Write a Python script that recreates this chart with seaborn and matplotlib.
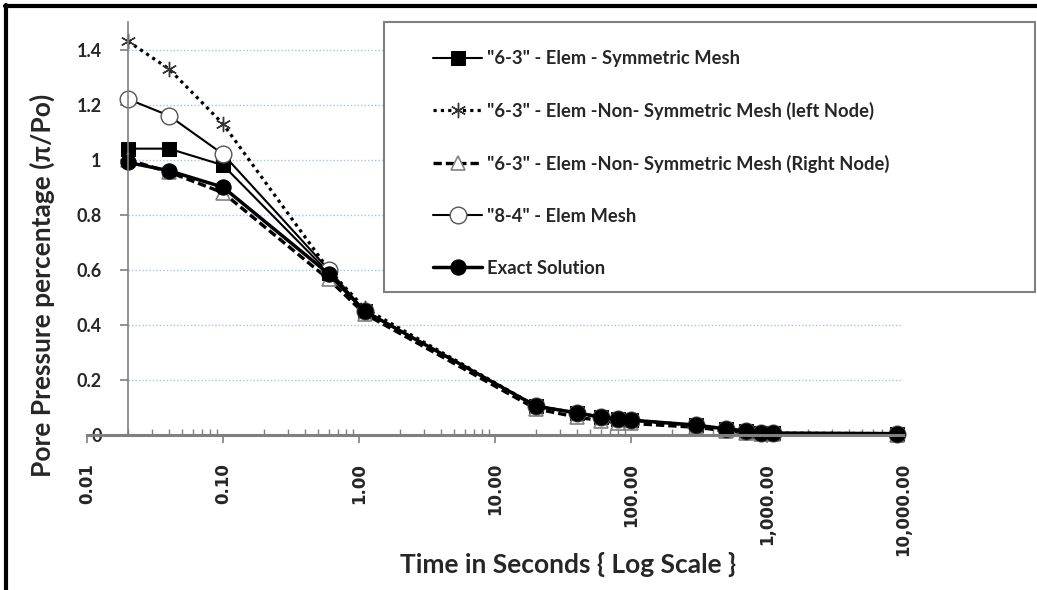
import numpy as np
import pandas as pd
import matplotlib
matplotlib.use("Agg")
import matplotlib.pyplot as plt
import seaborn as sns
from matplotlib.ticker import FixedLocator, LogLocator, NullFormatter
from matplotlib.patches import Rectangle
from matplotlib.lines import Line2D

# ── Data ────────────────────────────────────────────────
time_s = [0.02, 0.04, 0.1, 0.6, 1.1, 20, 40, 60, 80, 100, 300, 500, 700, 900, 1100, 9000]

sym_mesh   = [1.04, 1.04, 0.98, 0.59, 0.45, 0.105, 0.08, 0.065, 0.058, 0.054, 0.035, 0.022, 0.014, 0.008, 0.007, 0.005]
left_node  = [1.43, 1.33, 1.13, 0.60, 0.46, 0.105, 0.08, 0.065, 0.058, 0.054, 0.035, 0.022, 0.014, 0.008, 0.007, 0.005]
right_node = [1.00, 0.955, 0.88, 0.565, 0.44, 0.095, 0.065, 0.052, 0.045, 0.042, 0.028, 0.015, 0.008, 0.003, 0.002, 0.0]
mesh_84    = [1.22, 1.16, 1.02, 0.60, 0.45, 0.105, 0.08, 0.065, 0.058, 0.054, 0.035, 0.022, 0.014, 0.008, 0.007, 0.005]
exact      = [0.99, 0.96, 0.90, 0.585, 0.45, 0.105, 0.08, 0.065, 0.058, 0.054, 0.036, 0.022, 0.014, 0.008, 0.007, 0.005]

labels = ['"6-3" - Elem - Symmetric Mesh',
          '"6-3" - Elem -Non- Symmetric Mesh (left Node)',
          '"6-3" - Elem -Non- Symmetric Mesh (Right Node)',
          '"8-4" - Elem Mesh',
          'Exact Solution']

x_ticks = [0.01, 0.1, 1, 10, 100, 1000, 10000]
x_tick_labels = ["0.01", "0.10", "1.00", "10.00", "100.00", "1,000.00", "10,000.00"]
y_ticks = [0, 0.2, 0.4, 0.6, 0.8, 1.0, 1.2, 1.4]
y_tick_labels = ["0", "0.2", "0.4", "0.6", "0.8", "1", "1.2", "1.4"]

# ── Style ───────────────────────────────────────────────
sns.set_theme(style="white")
plt.rcParams["font.family"] = ["Lato", "DejaVu Sans"]
plt.rcParams["font.weight"] = "bold"

W, H = 1037, 590
fig = plt.figure(figsize=(W / 100, H / 100), dpi=100)
fig.patch.set_facecolor("white")
ax = fig.add_axes([87 / W, 1 - 435 / H, (903 - 87) / W, (435 - 22) / H])

series = [
    (sym_mesh,   dict(marker="s", linestyle="-", linewidth=1.5, markersize=10,
                      markerfacecolor="black", markeredgecolor="black")),
    (left_node,  dict(marker=(6, 2, 0), linestyle=(0, (1, 1.3)), linewidth=2.3, markersize=11,
                      markerfacecolor="none", markeredgecolor="#333333", markeredgewidth=1.0)),
    (right_node, dict(marker="^", linestyle=(0, (2.5, 1.2)), linewidth=2.4, markersize=10,
                      markerfacecolor="white", markeredgecolor="#808080", markeredgewidth=1.2)),
    (mesh_84,    dict(marker="o", linestyle="-", linewidth=1.5, markersize=12,
                      markerfacecolor="white", markeredgecolor="#555555", markeredgewidth=1.0)),
    (exact,      dict(marker="o", linestyle="-", linewidth=2.5, markersize=11,
                      markerfacecolor="black", markeredgecolor="black")),
]

for (vals, kw), lab in zip(series, labels):
    sns.lineplot(x=time_s, y=vals, ax=ax, color="black", label=lab,
                 estimator=None, sort=False, clip_on=False, **kw)

ax.set_xscale("log")
ax.set_xlim(0.01, 10000)
ax.set_ylim(0, 1.5)

# light blue dotted gridlines starting at the y-axis crossing
ax.hlines(y_ticks[1:], 0.02, 10000, colors="#a9c1e8", linestyles=(0, (1, 1.5)),
          linewidth=1.0, zorder=0)

for s in ["top", "right"]:
    ax.spines[s].set_visible(False)
ax.spines["left"].set_position(("data", 0.02))
ax.spines["left"].set_color("#7f7f7f")
ax.spines["left"].set_linewidth(1.2)
ax.spines["bottom"].set_color("#7f7f7f")
ax.spines["bottom"].set_linewidth(2.2)

ax.set_yticks(y_ticks)
ax.set_yticklabels(y_tick_labels, fontsize=13, fontweight="bold")
ax.tick_params(axis="y", direction="out", length=6, width=1.2, color="#7f7f7f",
               pad=13, left=True)

ax.xaxis.set_major_locator(FixedLocator(x_ticks))
ax.set_xticklabels(x_tick_labels, rotation=90, fontsize=12,
                   fontfamily="DejaVu Sans", fontweight="bold")
ax.xaxis.set_minor_locator(LogLocator(base=10, subs=np.arange(2, 10)))
ax.xaxis.set_minor_formatter(NullFormatter())
ax.tick_params(axis="x", which="major", direction="out", length=6, width=1.2,
               color="#7f7f7f", pad=14, bottom=True)
ax.tick_params(axis="x", which="minor", direction="in", length=4, width=1.0,
               color="#7f7f7f", bottom=True)

ax.set_ylabel("Pore Pressure percentage (\u03c0/Po)", fontsize=19, fontweight="bold")
ax.yaxis.set_label_coords(-0.039, 0.363)
ax.set_xlabel("Time in Seconds { Log Scale }", fontsize=19, fontweight="bold")
ax.xaxis.set_label_coords(0.589, -0.283)

# ── Legend with its own box ─────────────────────────────
handles, labs = ax.get_legend_handles_labels()
ax.get_legend().remove()
fig.patches.append(Rectangle((384 / W, 1 - 292 / H), (1035 - 384) / W, 270 / H,
                             transform=fig.transFigure, facecolor="white",
                             edgecolor="#808080", linewidth=1.5, zorder=1))
fig.legend(handles, labs, loc="upper left", bbox_to_anchor=(433 / W, 1 - 50 / H),
           frameon=False, borderpad=0, borderaxespad=0, handlelength=2.68,
           handletextpad=0.27, labelspacing=1.9,
           prop=dict(family="Lato", weight="bold", size=13.2))

# ── Black frame on top and left ─────────────────────────
fig.add_artist(Line2D([5 / W, 1], [1 - 6 / H, 1 - 6 / H], color="black", linewidth=3,
                      transform=fig.transFigure))
fig.add_artist(Line2D([6 / W, 6 / W], [0, 1 - 5 / H], color="black", linewidth=3,
                      transform=fig.transFigure))

plt.savefig("out.png", dpi=100)
plt.close()
